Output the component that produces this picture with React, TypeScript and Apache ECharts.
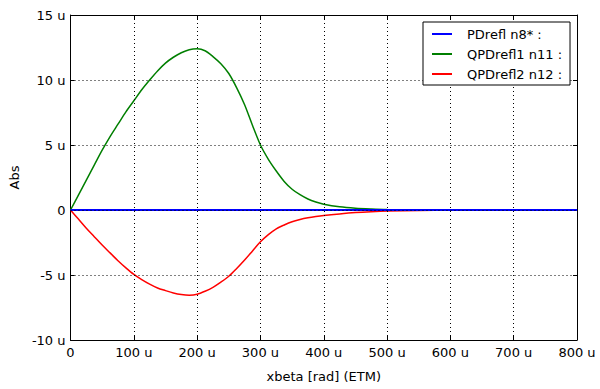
import React, { useEffect, useRef } from "react";
import * as echarts from "echarts";

const xValues = [0, 12.5, 25, 37.5, 50, 62.5, 75, 87.5, 100, 112.5, 125, 137.5, 150, 162.5, 175, 187.5, 200, 212.5, 225, 237.5, 250, 262.5, 275, 287.5, 300, 312.5, 325, 337.5, 350, 362.5, 375, 387.5, 400, 425, 450, 475, 500, 550, 600, 700, 800];
const pdrefl = xValues.map(() => 0);
const qpdrefl1 = [0, 1.15, 2.3, 3.45, 4.6, 5.65, 6.6, 7.55, 8.4, 9.25, 10.0, 10.7, 11.3, 11.75, 12.1, 12.33, 12.4, 12.25, 11.8, 11.25, 10.5, 9.4, 8.1, 6.5, 5.0, 3.9, 3.0, 2.2, 1.6, 1.18, 0.85, 0.62, 0.45, 0.25, 0.14, 0.08, 0.04, 0.01, 0, 0, 0];
const qpdrefl2 = [0, -0.7, -1.4, -2.05, -2.7, -3.3, -3.9, -4.45, -4.95, -5.35, -5.7, -6.0, -6.2, -6.38, -6.5, -6.55, -6.48, -6.25, -5.95, -5.55, -5.1, -4.5, -3.85, -3.15, -2.45, -1.9, -1.45, -1.15, -0.9, -0.73, -0.6, -0.5, -0.42, -0.3, -0.2, -0.13, -0.08, -0.03, -0.01, 0, 0];
const seriesNames = ["PDrefl n8* :", "QPDrefl1 n11 :", "QPDrefl2 n12 :"];
const colors = ["#0000ff", "#007f00", "#ff0000"];
const xTicks = [100, 200, 300, 400, 500, 600, 700];
const yTicks = [-5, 0, 5, 10];

const font = "DejaVu Sans";
const fmt = (v: number) => (v === 0 ? "0" : `${v} u`);

export default function App() {
  const ref = useRef<HTMLDivElement>(null);
  useEffect(() => {
    const chart = echarts.init(ref.current!, null, { renderer: "svg" });
    const mk = (arr: number[]) => xValues.map((x, i) => [x, arr[i]]);
    const datasets = [pdrefl, qpdrefl1, qpdrefl2];
    const gridMarks = {
      silent: true,
      symbol: ["none", "none"],
      label: { show: false },
      animation: false,
      lineStyle: { color: "#000", type: [1, 3], width: 1 },
      data: [
        ...xTicks.map((v) => ({ xAxis: v })),
        ...yTicks.map((v) => ({ yAxis: v })),
      ],
    };
    chart.setOption({
      animation: false,
      backgroundColor: "#fff",
      grid: { left: 67, right: 23, top: 15, bottom: 49, containLabel: false },
      legend: {
        data: seriesNames,
        orient: "vertical",
        left: 423,
        top: 22,
        z: 20,
        itemWidth: 20,
        itemHeight: 2,
        itemGap: 6,
        icon: "rect",
        padding: [5, 8, 4, 9],
        borderColor: "#000",
        borderWidth: 1,
        backgroundColor: "#fff",
        textStyle: { fontFamily: font, fontSize: 13, color: "#000", padding: [0, 0, 0, 10], lineHeight: 14 },
      },
      xAxis: [
        {
          type: "value",
          min: 0,
          max: 800,
          interval: 100,
          name: "xbeta [rad] (ETM)",
          nameLocation: "middle",
          nameGap: 30,
          nameTextStyle: { fontFamily: font, fontSize: 13, color: "#000" },
          axisLine: { show: true, onZero: false, lineStyle: { color: "#000", width: 1 } },
          axisTick: { show: true, inside: true, length: 4, lineStyle: { color: "#000" } },
          axisLabel: { formatter: fmt, fontFamily: font, fontSize: 13, color: "#000", margin: 6 },
          splitLine: { show: false },
        },
        {
          type: "value",
          position: "top",
          min: 0,
          max: 800,
          interval: 100,
          axisLine: { show: true, onZero: false, lineStyle: { color: "#000", width: 1 } },
          axisTick: { show: true, inside: true, length: 4, lineStyle: { color: "#000" } },
          axisLabel: { show: false },
          splitLine: { show: false },
        },
      ],
      yAxis: [
        {
          type: "value",
          min: -10,
          max: 15,
          interval: 5,
          name: "Abs",
          nameLocation: "middle",
          nameGap: 47,
          nameTextStyle: { fontFamily: font, fontSize: 13, color: "#000" },
          axisLine: { show: true, onZero: false, lineStyle: { color: "#000", width: 1 } },
          axisTick: { show: true, inside: true, length: 4, lineStyle: { color: "#000" } },
          axisLabel: { formatter: fmt, fontFamily: font, fontSize: 13, color: "#000", margin: 5 },
          splitLine: { show: false },
        },
        {
          type: "value",
          position: "right",
          min: -10,
          max: 15,
          interval: 5,
          axisLine: { show: true, onZero: false, lineStyle: { color: "#000", width: 1 } },
          axisTick: { show: true, inside: true, length: 4, lineStyle: { color: "#000" } },
          axisLabel: { show: false },
          splitLine: { show: false },
        },
      ],
      series: seriesNames.map((name, i) => ({
        name,
        type: "line",
        data: mk(datasets[i]),
        smooth: 0.3,
        symbol: "none",
        color: colors[i],
        lineStyle: { color: colors[i], width: i === 0 ? 2 : 1.5 },
        z: i === 1 ? 1 : i === 0 ? 3 : 2,
        ...(i === 1 ? { markLine: gridMarks } : {}),
      })),
    });
    return () => chart.dispose();
  }, []);
  return <div ref={ref} style={{ position: "fixed", left: 0, top: 0, width: 600, height: 389 }} />;
}
